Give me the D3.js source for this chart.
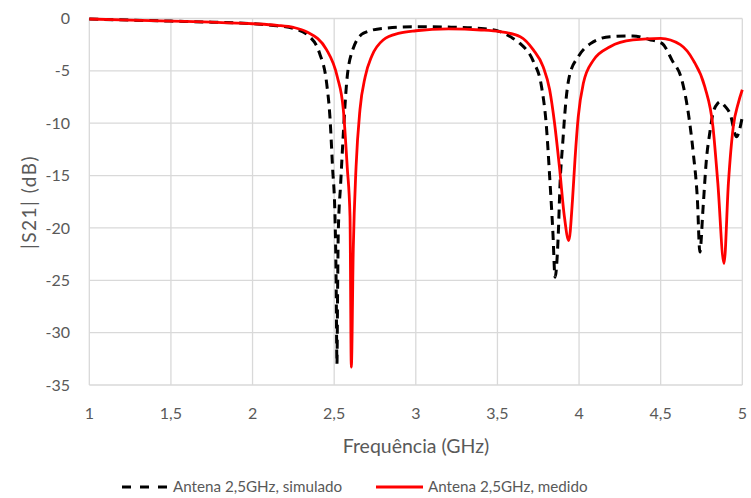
<!DOCTYPE html>
<html><head><meta charset="utf-8">
<script src="https://cdn.jsdelivr.net/npm/d3@7"></script>
<style>
html,body{margin:0;padding:0;background:#fff;}
text{font-family:Lato,"Open Sans","Liberation Sans",sans-serif;fill:#595959;}
</style></head>
<body><svg id="c" width="751" height="498"></svg>
<script>
const xTicks = [1, 1.5, 2, 2.5, 3, 3.5, 4, 4.5, 5];
const yTicks = [0, -5, -10, -15, -20, -25, -30, -35];
const seriesNames = ["Antena 2,5GHz, simulado", "Antena 2,5GHz, medido"];

const simFreq = [1.0,1.25,1.5,1.75,2.0,2.15,2.25,2.35,2.41,2.454,2.474,2.49,2.505,2.512,2.517,2.521,2.525,2.54,2.556,2.576,2.607,2.68,2.8,3.0,3.2,3.4,3.515,3.58,3.64,3.72,3.77,3.8,3.82,3.84,3.853,3.873,3.883,3.9,3.92,3.94,3.995,4.07,4.19,4.33,4.43,4.51,4.57,4.63,4.67,4.7,4.725,4.74,4.76,4.78,4.8,4.82,4.85,4.865,4.89,4.925,4.965,4.98,5.0];
const simDb   = [-0.05,-0.15,-0.25,-0.35,-0.5,-0.7,-0.94,-1.74,-3.3,-6.2,-9.4,-14.2,-18.9,-25,-33,-26,-20.5,-15.7,-11,-6.2,-3.3,-1.4,-0.94,-0.78,-0.82,-0.95,-1.26,-1.75,-2.4,-4.1,-6.5,-10.3,-15.1,-20.5,-24.7,-20.5,-16,-11.9,-7.8,-5.56,-3.65,-2.4,-1.74,-1.67,-2.0,-2.4,-4.0,-5.9,-9.1,-12.9,-17.3,-22.3,-18,-13.5,-11,-9.1,-8.1,-7.95,-8.3,-9.1,-11.3,-10.8,-9.4];

const meaFreq = [1.0,1.25,1.5,1.75,2.0,2.15,2.25,2.33,2.454,2.519,2.556,2.58,2.597,2.605,2.617,2.634,2.658,2.69,2.73,2.8,2.9,3.0,3.2,3.4,3.515,3.64,3.72,3.78,3.82,3.85,3.88,3.91,3.937,3.96,3.975,3.995,4.026,4.087,4.19,4.33,4.5,4.62,4.7,4.77,4.82,4.85,4.888,4.915,4.945,4.975,5.0];
const meaDb   = [-0.05,-0.15,-0.25,-0.35,-0.5,-0.65,-0.85,-1.26,-3.0,-5.56,-8.7,-14.2,-18.9,-33.3,-22,-14.2,-8.7,-5.56,-3.6,-2.05,-1.4,-1.17,-1.0,-1.1,-1.26,-1.74,-3.0,-4.6,-6.8,-10,-14.2,-18.9,-21.2,-17.3,-13.5,-9.4,-6.2,-4.0,-2.7,-2.05,-1.9,-2.5,-4.0,-6.5,-10.3,-15.7,-23.4,-15.7,-10.3,-8.1,-6.8];

const svg = d3.select("#c");
const x = d3.scaleLinear().domain([1,5]).range([89.3,742.3]);
const y = d3.scaleLinear().domain([-35,0]).range([385,18.5]);
const fmt = d => String(d).replace(".", ",");

// gridlines
svg.append("g").selectAll("line").data(yTicks).join("line")
  .attr("x1", x(1)).attr("x2", x(5)).attr("y1", d=>y(d)).attr("y2", d=>y(d))
  .attr("stroke", "#d9d9d9").attr("stroke-width", 1.3);
svg.append("g").selectAll("line").data(xTicks).join("line")
  .attr("y1", y(0)).attr("y2", y(-35)).attr("x1", d=>x(d)).attr("x2", d=>x(d))
  .attr("stroke", "#d9d9d9").attr("stroke-width", 1.3);

// tick labels
svg.append("g").selectAll("text").data(yTicks).join("text")
  .attr("x", 70).attr("y", d=>y(d)).attr("dy","0.35em").attr("text-anchor","end")
  .attr("font-size", 16).text(d=>fmt(d));
svg.append("g").selectAll("text").data(xTicks).join("text")
  .attr("x", d=>x(d)).attr("y", 413).attr("dy","0.35em").attr("text-anchor","middle")
  .attr("font-size", 16).text(d=>fmt(d));

// axis titles
svg.append("text").attr("x", 416).attr("y", 446).attr("dy","0.35em").attr("text-anchor","middle")
  .attr("font-size", 19.5).text("Frequência (GHz)");
svg.append("text").attr("transform","translate(29,202) rotate(-90)").attr("dy","0.35em")
  .attr("text-anchor","middle").attr("font-size",19).attr("letter-spacing",1.5).text("|S21| (dB)");

const line = d3.line().x(d=>x(d[0])).y(d=>y(d[1])).curve(d3.curveMonotoneX);
const simData = simFreq.map((f,i)=>[f, simDb[i]]);
const meaData = meaFreq.map((f,i)=>[f, meaDb[i]]);

svg.append("path").datum(simData).attr("d", line).attr("fill","none")
  .attr("stroke","#000").attr("stroke-width",3).attr("stroke-dasharray","9,6");
svg.append("path").datum(meaData).attr("d", line).attr("fill","none")
  .attr("stroke","#ff0000").attr("stroke-width",2.8);

// legend
const lg = svg.append("g");
lg.append("line").attr("x1",122).attr("x2",168).attr("y1",487).attr("y2",487)
  .attr("stroke","#000").attr("stroke-width",3).attr("stroke-dasharray","9,9");
lg.append("text").attr("x",173).attr("y",487).attr("dy","0.35em").attr("font-size",15.2).text(seriesNames[0]);
lg.append("line").attr("x1",376).attr("x2",423).attr("y1",487).attr("y2",487)
  .attr("stroke","#ff0000").attr("stroke-width",2.8);
lg.append("text").attr("x",428).attr("y",487).attr("dy","0.35em").attr("font-size",15.2).text(seriesNames[1]);
</script></body></html>
